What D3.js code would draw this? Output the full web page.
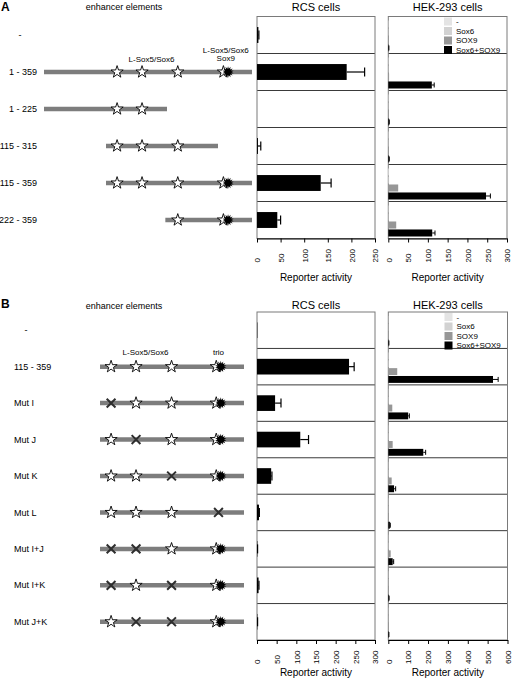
<!DOCTYPE html>
<html><head><meta charset="utf-8">
<script src="https://cdn.jsdelivr.net/npm/d3@7"></script>
<style>body{margin:0;background:#fff}svg{display:block;font-family:"Liberation Sans",Arial,sans-serif}</style>
</head><body><svg id="c" width="512" height="680"></svg>
<script>
// ---------- data ----------
const hekConds = ["-", "Sox6", "SOX9", "Sox6+SOX9"];
const sitePos = [135, 180, 244, 322];   // L-Sox5/Sox6 sites (bp)
const trioPos = 328;                    // Sox9 / trio site (bp)

// Panel A
const aLabels = ["-", "1 - 359", "1 - 225", "115 - 315", "115 - 359", "222 - 359"];
const aStart = [null, 1, 1, 115, 115, 222];
const aEnd = [null, 359, 225, 315, 359, 359];
const aRcs = [3, 190, 0, 2, 135, 43];
const aRcsErr = [4, 228, 0, 8, 157, 50];
const aHekNone = [1, 1, 1, 1, 2, 1];
const aHekSox6 = [1, 1, 1, 1, 2, 1];
const aHekSox9 = [1, 2, 1, 1, 25, 20];
const aHekBoth = [1, 110, 2, 2, 247, 111];
const aHekBothErr = [1.5, 116, 2.5, 2.5, 258, 118];
const aRcsTicks = [0, 50, 100, 150, 200, 250];
const aHekTicks = [0, 50, 100, 150, 200, 250, 300];

// Panel B
const bLabels = ["-", "115 - 359", "Mut I", "Mut J", "Mut K", "Mut L", "Mut I+J", "Mut I+K", "Mut J+K"];
const bHasLine = [false, true, true, true, true, true, true, true, true];
const bMutated = [[], [], [0], [1], [2], [3], [0, 1], [0, 2], [1, 2]];
const bRcs = [1, 234, 46, 110, 36, 5, 1, 4, 1];
const bRcsErr = [1, 247, 61, 131, 38, 6, 1.5, 5, 1.5];
const bHekNone = [1, 2, 1, 1, 1, 1, 1, 1, 1];
const bHekSox6 = [1, 3, 2, 2, 2, 1, 2, 1, 1];
const bHekSox9 = [1, 45, 20, 22, 17, 3, 12, 2, 2];
const bHekBoth = [2, 527, 100, 176, 29, 8, 22, 3, 2];
const bHekBothErr = [3, 553, 106, 188, 37, 10, 27, 4, 3];
const bRcsTicks = [0, 50, 100, 150, 200, 250, 300];
const bHekTicks = [0, 100, 200, 300, 400, 500, 600];

// ---------- style ----------
const condColor = {"-": "#e4e4e4", "Sox6": "#d2d2d2", "SOX9": "#979797", "Sox6+SOX9": "#000"};
const svg = d3.select("#c");

function starAt(g, x, y) {
  g.append("path").attr("d", d3.symbol(d3.symbolStar, 46)())
    .attr("transform", `translate(${x},${y})`)
    .attr("fill", "#fff").attr("stroke", "#000").attr("stroke-width", 0.9);
}
function burstAt(g, x, y) {
  const n = 14, ro = 5.8, ri = 3.3;
  const pts = d3.range(n * 2).map(i => {
    const r = i % 2 ? ri : ro, a = Math.PI * i / n;
    return [x + r * Math.sin(a), y - r * Math.cos(a)];
  });
  g.append("path").attr("d", d3.line()(pts) + "Z").attr("fill", "#000");
}
function xAt(g, x, y) {
  g.append("path").attr("d", d3.symbol(d3.symbolX, 52)())
    .attr("transform", `translate(${x},${y})`)
    .attr("fill", "none").attr("stroke", "#2e2e2e").attr("stroke-width", 2);
}

function barPanel(o) {
  const n = o.labels.length;
  const rows = d3.scaleBand().domain(d3.range(n)).range([o.top, o.bottom]);
  const x = d3.scaleLinear().domain([0, o.max]).range([o.x0, o.x1]);
  const g = svg.append("g");
  g.append("text").attr("x", (o.x0 + o.x1) / 2).attr("y", o.titleY)
    .attr("text-anchor", "middle").attr("font-size", 11).text(o.title);
  g.selectAll("line.sep").data(d3.range(1, n)).join("line")
    .attr("x1", o.x0).attr("x2", o.x1)
    .attr("y1", i => rows(i)).attr("y2", i => rows(i))
    .attr("stroke", "#3a3a3a").attr("stroke-width", 1);
  g.append("rect").attr("x", o.x0).attr("y", o.top).attr("width", o.x1 - o.x0)
    .attr("height", o.bottom - o.top).attr("fill", "none").attr("stroke", "#7a7a7a");

  if (o.series.length === 1) {
    const s = o.series[0];
    const h = rows.bandwidth() * 0.43;
    g.selectAll("rect.b").data(s.values).join("rect")
      .attr("x", x(0)).attr("y", (d, i) => rows(i) + rows.bandwidth() / 2 - h / 2)
      .attr("width", d => x(d) - x(0)).attr("height", h).attr("fill", "#000");
    s.err.forEach((e, i) => {
      if (e <= s.values[i]) return;
      const cy = rows(i) + rows.bandwidth() / 2;
      g.append("line").attr("x1", x(s.values[i])).attr("x2", x(e)).attr("y1", cy).attr("y2", cy)
        .attr("stroke", "#000").attr("stroke-width", 1.2);
      g.append("line").attr("x1", x(e)).attr("x2", x(e)).attr("y1", cy - 4.5).attr("y2", cy + 4.5)
        .attr("stroke", "#000").attr("stroke-width", 1.2);
    });
  } else {
    const inner = d3.scaleBand().domain(hekConds);
    d3.range(n).forEach(i => {
      inner.range([rows(i) + 4, rows(i) + rows.bandwidth() - 2]).paddingInner(0.12);
      o.series.forEach(s => {
        const y = inner(s.cond), h = inner.bandwidth();
        g.append("rect").attr("x", x(0)).attr("y", y).attr("width", x(s.values[i]) - x(0))
          .attr("height", h).attr("fill", condColor[s.cond]);
        if (s.err && s.err[i] > s.values[i]) {
          const cy = y + h / 2;
          g.append("line").attr("x1", x(s.values[i])).attr("x2", x(s.err[i])).attr("y1", cy).attr("y2", cy)
            .attr("stroke", "#000").attr("stroke-width", 1);
          g.append("line").attr("x1", x(s.err[i])).attr("x2", x(s.err[i])).attr("y1", cy - 2.5).attr("y2", cy + 2.5)
            .attr("stroke", "#000").attr("stroke-width", 1);
        }
      });
    });
    const lg = g.append("g");
    hekConds.forEach((c, k) => {
      const cy = o.top + 5 + k * 9.5;
      lg.append("rect").attr("x", o.x1 - 63).attr("y", cy - 4).attr("width", 8).attr("height", 8)
        .attr("fill", condColor[c]);
      lg.append("text").attr("x", o.x1 - 51).attr("y", cy).attr("dy", "0.35em")
        .attr("font-size", 8).text(c);
    });
  }
  const ax = g.append("g").attr("transform", `translate(0,${o.bottom})`)
    .call(d3.axisBottom(x).tickValues(o.ticks).tickSize(4).tickSizeOuter(0).tickFormat(d3.format("d")));
  ax.select(".domain").attr("stroke", "#000");
  ax.selectAll(".tick line").attr("stroke", "#000");
  ax.selectAll(".tick text").attr("font-size", 8).attr("fill", "#000")
    .attr("font-family", '"Liberation Sans", Arial, sans-serif')
    .attr("x", 0).attr("y", 0).attr("dy", "0.35em").attr("text-anchor", "start")
    .attr("transform", "translate(0,24) rotate(-90)");
  g.append("text").attr("x", (o.x0 + o.x1) / 2).attr("y", o.bottom + o.xlabDy)
    .attr("text-anchor", "middle").attr("font-size", 10).text("Reporter activity");
  return rows;
}

// ---------- Panel A ----------
(function () {
  const top = 16.5, bottom = 238.5;
  const rows = barPanel({labels: aLabels, top, bottom, x0: 257, x1: 375, max: 250, ticks: aRcsTicks,
    title: "RCS cells", titleY: 11, xlabDy: 42, series: [{values: aRcs, err: aRcsErr}]});
  barPanel({labels: aLabels, top, bottom, x0: 388.3, x1: 507, max: 300, ticks: aHekTicks,
    title: "HEK-293 cells", titleY: 11, xlabDy: 42, series: [
      {cond: "-", values: aHekNone}, {cond: "Sox6", values: aHekSox6},
      {cond: "SOX9", values: aHekSox9}, {cond: "Sox6+SOX9", values: aHekBoth, err: aHekBothErr}]});
  svg.append("text").attr("x", 1).attr("y", 11).attr("font-size", 12).attr("font-weight", "bold").text("A");
  svg.append("text").attr("x", 124).attr("y", 10).attr("text-anchor", "middle").attr("font-size", 9).text("enhancer elements");
  const xs = d3.scaleLinear().domain([1, 115, 225, 315, 359]).range([44, 106, 167, 218, 252]);
  const g = svg.append("g");
  aLabels.forEach((lab, i) => {
    const cy = rows(i) + rows.bandwidth() / 2;
    const ctl = lab === "-";
    g.append("text").attr("x", ctl ? 20 : 37).attr("y", cy).attr("dy", "0.35em")
      .attr("text-anchor", ctl ? "middle" : "end").attr("font-size", 9).text(lab);
    if (aStart[i] == null) return;
    g.append("line").attr("x1", xs(aStart[i])).attr("x2", xs(aEnd[i])).attr("y1", cy).attr("y2", cy)
      .attr("stroke", "#7d7d7d").attr("stroke-width", 4.5);
    sitePos.forEach(p => { if (p >= aStart[i] && p <= aEnd[i]) starAt(g, xs(p), cy); });
    if (trioPos >= aStart[i] && trioPos <= aEnd[i]) burstAt(g, xs(trioPos), cy);
    if (i === 1) {
      g.append("text").attr("x", xs(197)).attr("y", cy - 13).attr("dy", "0.35em")
        .attr("text-anchor", "middle").attr("font-size", 8).text("L-Sox5/Sox6");
      g.append("text").attr("x", xs(325)).attr("y", cy - 22).attr("dy", "0.35em")
        .attr("text-anchor", "middle").attr("font-size", 8).text("L-Sox5/Sox6");
      g.append("text").attr("x", xs(325)).attr("y", cy - 13.5).attr("dy", "0.35em")
        .attr("text-anchor", "middle").attr("font-size", 8).text("Sox9");
    }
  });
})();

// ---------- Panel B ----------
(function () {
  const top = 312, bottom = 640;
  const rows = barPanel({labels: bLabels, top, bottom, x0: 257, x1: 375, max: 300, ticks: bRcsTicks,
    title: "RCS cells", titleY: 309, xlabDy: 35.5, series: [{values: bRcs, err: bRcsErr}]});
  barPanel({labels: bLabels, top, bottom, x0: 388.3, x1: 507.5, max: 600, ticks: bHekTicks,
    title: "HEK-293 cells", titleY: 309, xlabDy: 35.5, series: [
      {cond: "-", values: bHekNone}, {cond: "Sox6", values: bHekSox6},
      {cond: "SOX9", values: bHekSox9}, {cond: "Sox6+SOX9", values: bHekBoth, err: bHekBothErr}]});
  svg.append("text").attr("x", 1).attr("y", 308).attr("font-size", 12).attr("font-weight", "bold").text("B");
  svg.append("text").attr("x", 124).attr("y", 309).attr("text-anchor", "middle").attr("font-size", 9).text("enhancer elements");
  const xs = d3.scaleLinear().domain([115, 225, 315, 359]).range([100, 161, 211, 244]);
  const g = svg.append("g");
  bLabels.forEach((lab, i) => {
    const cy = rows(i) + rows.bandwidth() / 2;
    const ctl = lab === "-";
    g.append("text").attr("x", ctl ? 26 : 14).attr("y", cy).attr("dy", "0.35em")
      .attr("text-anchor", ctl ? "middle" : "start").attr("font-size", 9).text(lab);
    if (!bHasLine[i]) return;
    g.append("line").attr("x1", xs(115)).attr("x2", xs(359)).attr("y1", cy).attr("y2", cy)
      .attr("stroke", "#7d7d7d").attr("stroke-width", 4.5);
    const mut = bMutated[i];
    sitePos.forEach((p, k) => {
      if (mut.includes(k)) {
        if (k < 3) xAt(g, xs(p), cy);
      } else starAt(g, xs(p), cy);
    });
    if (mut.includes(3)) xAt(g, xs((sitePos[3] + trioPos) / 2), cy);
    else burstAt(g, xs(trioPos), cy);
    if (i === 1) {
      g.append("text").attr("x", xs(197)).attr("y", cy - 14.5).attr("dy", "0.35em")
        .attr("text-anchor", "middle").attr("font-size", 8).text("L-Sox5/Sox6");
      g.append("text").attr("x", xs(325)).attr("y", cy - 14.5).attr("dy", "0.35em")
        .attr("text-anchor", "middle").attr("font-size", 8).text("trio");
    }
  });
})();
</script>
</body></html>
